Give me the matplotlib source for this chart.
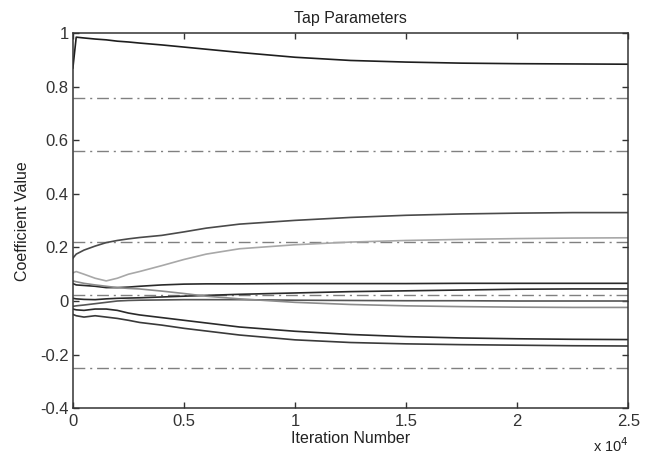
import numpy as np
import matplotlib
matplotlib.use("Agg")
import matplotlib.pyplot as plt
from matplotlib.ticker import FuncFormatter

# =========================
# DATA
# =========================

iterations = np.array([0, 150, 500, 1000, 1500, 2000, 2500, 3000, 4000, 5000,
                       6000, 7500, 10000, 12500, 15000, 17500, 20000, 22500, 25000])

tap_a = [0.87, 0.985, 0.982, 0.978, 0.975, 0.970, 0.967, 0.963, 0.956, 0.948,
         0.940, 0.928, 0.910, 0.898, 0.892, 0.888, 0.886, 0.885, 0.884]
tap_b = [0.160, 0.175, 0.190, 0.205, 0.218, 0.226, 0.232, 0.237, 0.245, 0.258,
         0.272, 0.287, 0.301, 0.312, 0.320, 0.325, 0.328, 0.330, 0.330]
tap_c = [0.105, 0.110, 0.100, 0.085, 0.075, 0.085, 0.100, 0.110, 0.132, 0.155,
         0.175, 0.195, 0.210, 0.220, 0.226, 0.230, 0.233, 0.235, 0.236]
tap_d = [0.065, 0.060, 0.058, 0.055, 0.050, 0.050, 0.052, 0.055, 0.060, 0.063,
         0.064, 0.064, 0.065, 0.065, 0.065, 0.066, 0.066, 0.066, 0.066]
tap_e = [0.010, 0.008, 0.006, 0.005, 0.008, 0.010, 0.011, 0.012, 0.015, 0.018,
         0.021, 0.025, 0.030, 0.035, 0.038, 0.041, 0.044, 0.045, 0.045]
tap_f = [-0.020, -0.018, -0.015, -0.010, -0.005, 0.000, 0.002, 0.003, 0.004, 0.005,
         0.005, 0.005, 0.003, 0.002, 0.001, 0.001, 0.000, 0.000, 0.000]
tap_g = [0.075, 0.072, 0.066, 0.060, 0.055, 0.050, 0.047, 0.045, 0.037, 0.028,
         0.018, 0.008, -0.005, -0.013, -0.018, -0.021, -0.023, -0.024, -0.024]
tap_h = [-0.030, -0.033, -0.035, -0.030, -0.030, -0.035, -0.045, -0.052, -0.062, -0.072,
         -0.082, -0.097, -0.113, -0.125, -0.133, -0.138, -0.141, -0.143, -0.144]
tap_i = [-0.050, -0.055, -0.060, -0.055, -0.060, -0.065, -0.072, -0.080, -0.090, -0.102,
         -0.112, -0.127, -0.145, -0.155, -0.160, -0.163, -0.165, -0.167, -0.168]

# dash-dot reference levels
true_taps = [0.757, 0.561, 0.221, 0.022, -0.251]

# =========================
# PLOT
# =========================

plt.rcParams["font.family"] = ["Liberation Sans", "DejaVu Sans"]

fig = plt.figure(figsize=(6.45, 4.54), dpi=100)
ax = fig.add_axes([0.113, 0.101, 0.861, 0.826])

for level in true_taps:
    ax.axhline(level, color="#808080", lw=1.0, dashes=(8.5, 3.5, 1.5, 3.5))

curves = [
    (tap_a, "#1e1e1e"),
    (tap_b, "#4a4a4a"),
    (tap_c, "#a8a8a8"),
    (tap_d, "#2a2a2a"),
    (tap_e, "#2a2a2a"),
    (tap_f, "#555555"),
    (tap_g, "#8c8c8c"),
    (tap_h, "#2a2a2a"),
    (tap_i, "#3a3a3a"),
]
for values, color in curves:
    ax.plot(iterations, values, color=color, lw=1.2)

ax.set_xlim(0, 25000)
ax.set_ylim(-0.4, 1.0)
ax.set_xticks([0, 5000, 10000, 15000, 20000, 25000])
ax.set_yticks([-0.4, -0.2, 0, 0.2, 0.4, 0.6, 0.8, 1.0])
ax.xaxis.set_major_formatter(FuncFormatter(lambda v, p: f"{v / 1e4:g}"))
ax.yaxis.set_major_formatter(FuncFormatter(lambda v, p: f"{v:g}"))

ax.tick_params(direction="in", length=4, width=1, top=True, right=True,
               labelsize=12, colors="#333333")
ax.tick_params(axis="x", pad=4)
ax.tick_params(axis="y", pad=3)
for spine in ax.spines.values():
    spine.set_color("#333333")
    spine.set_linewidth(1.1)

ax.set_title("Tap Parameters", fontsize=11.5, color="#222222", pad=7)
ax.set_xlabel("Iteration Number", fontsize=11.5, color="#222222", labelpad=2)
ax.set_ylabel("Coefficient Value", fontsize=11.5, color="#222222", labelpad=7)
ax.text(1.0, -0.074, "x 10$^{4}$", transform=ax.transAxes, ha="right", va="top",
        fontsize=10.5, color="#222222")

fig.savefig("out.png", dpi=100)
